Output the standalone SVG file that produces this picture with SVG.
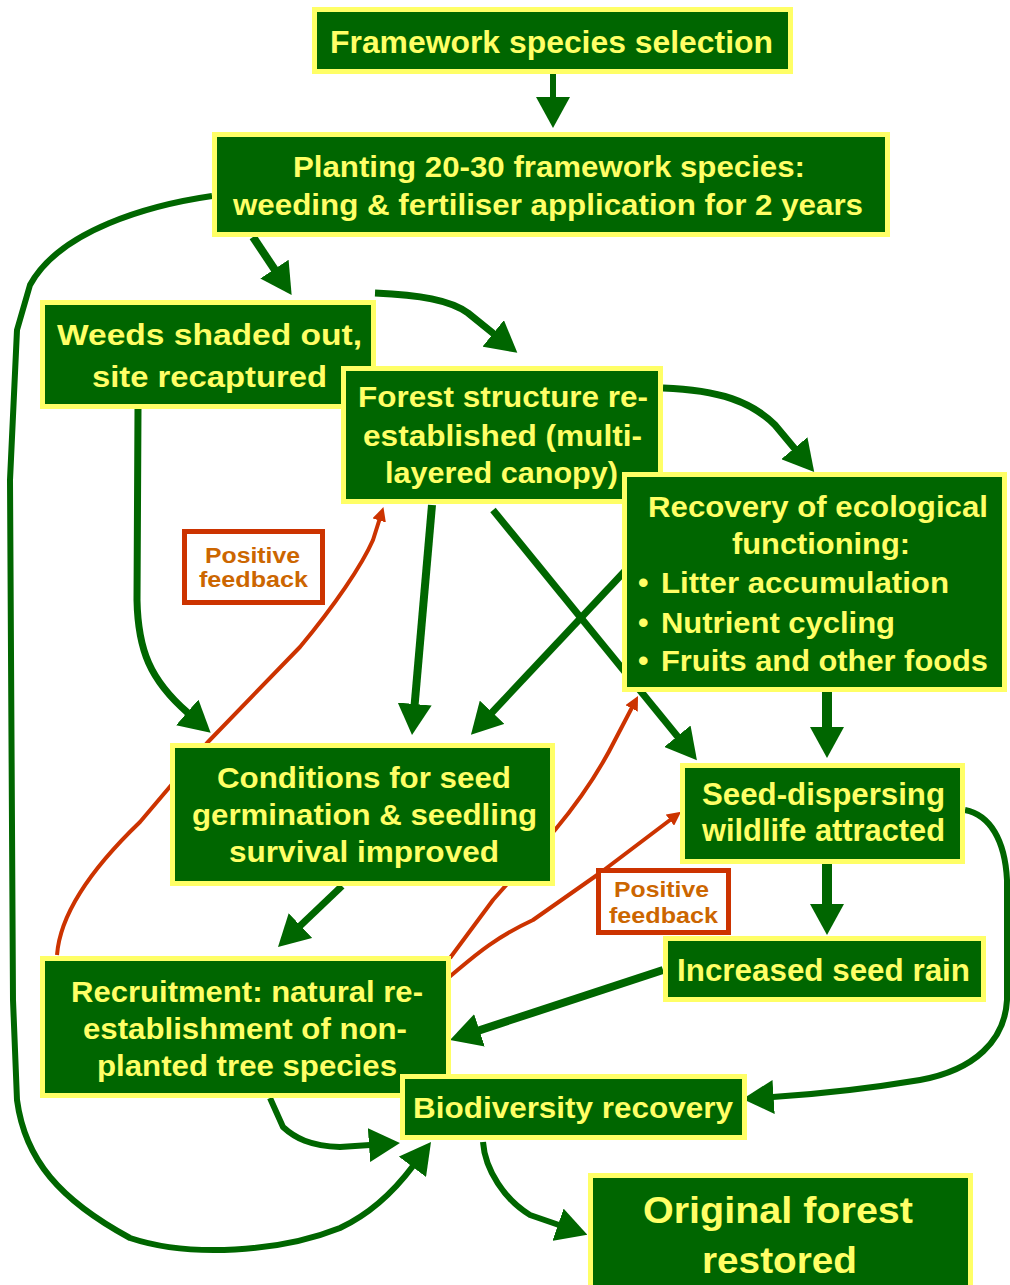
<svg xmlns="http://www.w3.org/2000/svg" width="1010" height="1285" viewBox="0 0 1010 1285">
<style>
.node rect{fill:#006600;stroke:#FFFF66;stroke-width:5}
.fb rect{fill:#FFFFFF;stroke:#CC3300;stroke-width:5}
text{font-family:"Liberation Sans",Arial,sans-serif;font-weight:bold}
.t{fill:#FFFF66;font-size:29px}
.f{fill:#CC6600;font-size:22px}
.c path{fill:none;stroke:#006600;stroke-width:7;stroke-linejoin:round}
.c path.r{stroke:#CC3300;stroke-width:4}
</style>
<defs>
<marker id="ah" viewBox="0 -17 31 34" markerWidth="31" markerHeight="34" markerUnits="userSpaceOnUse" refX="1" refY="0" orient="auto">
<path d="M0,-17 L31,0 L0,17 z" fill="#006600"/>
</marker>
<marker id="rh" viewBox="0 -7 14 14" markerWidth="14" markerHeight="14" markerUnits="userSpaceOnUse" refX="1" refY="0" orient="auto">
<path d="M0,-7 L14,0 L0,7 z" fill="#CC3300"/>
</marker>
</defs>
<rect width="1010" height="1285" fill="#FFFFFF"/>
<g id="connectors" class="c">
<path d="M553,74 L553,98" style="stroke-width:6" marker-end="url(#ah)"/>
<path d="M253,237 L275,270" style="stroke-width:8" marker-end="url(#ah)"/>
<path d="M375,293 C420,295 450,300 468,313 L494,334" marker-end="url(#ah)"/>
<path d="M663,388 C720,390 752,402 775,425 L795,449" marker-end="url(#ah)"/>
<path d="M138,409 L137,600 C138,650 150,680 188,713" marker-end="url(#ah)"/>
<path d="M432,505 L414.6,705" style="stroke-width:8" marker-end="url(#ah)"/>
<path d="M493,510 L678,737" marker-end="url(#ah)"/>
<path d="M640,555 L491.5,713" marker-end="url(#ah)"/>
<path d="M827,692 L827,728" style="stroke-width:10" marker-end="url(#ah)"/>
<path d="M827,864 L827,905" style="stroke-width:10" marker-end="url(#ah)"/>
<path d="M342,886 L299.7,926.3" marker-end="url(#ah)"/>
<path d="M663,970 L478.5,1030.6" style="stroke-width:8" marker-end="url(#ah)"/>
<path d="M270,1098 L283,1127 C295,1138 310,1146 340,1147 L370,1145" style="stroke-width:6" marker-end="url(#ah)"/>
<path d="M212,196 C150,205 60,230 30,285 L17,330 L10,480 L13,1000 L17,1100 C25,1160 60,1200 130,1238 C190,1258 280,1252 340,1228 C370,1214 395,1190 413,1166" style="stroke-width:6" marker-end="url(#ah)"/>
<path d="M965,810 C990,815 1005,840 1007,880 L1007,1000 C1005,1040 975,1070 920,1080 C860,1090 820,1094 772.6,1097" style="stroke-width:6" marker-end="url(#ah)"/>
<path d="M483,1142 C485,1170 505,1200 530,1215 L559,1225" style="stroke-width:6" marker-end="url(#ah)"/>
<path class="r" d="M57,955 C60,915 90,870 140,822 L207,743 L300,647 C335,605 362,565 373,540 L379.5,519.5" marker-end="url(#rh)"/>
<path class="r" d="M450,958 L493,900 L555,830 C580,800 600,770 615,740 L632,707.5" marker-end="url(#rh)"/>
<path class="r" d="M448,978 C470,960 490,940 533,920 L600,873 L670.7,819.5" marker-end="url(#rh)"/>
</g>
<g id="framework" class="node">
<rect x="314.5" y="9.5" width="476" height="62"/>
<text class="t" x="330" y="53" textLength="443" lengthAdjust="spacingAndGlyphs" style="font-size:31px">Framework species selection</text>
</g>
<g id="planting" class="node">
<rect x="214.5" y="134.5" width="673" height="100"/>
<text class="t" x="293" y="177" textLength="512" lengthAdjust="spacingAndGlyphs">Planting 20-30 framework species:</text>
<text class="t" x="233" y="215" textLength="630" lengthAdjust="spacingAndGlyphs">weeding &amp; fertiliser application for 2 years</text>
</g>
<g id="weeds" class="node">
<rect x="42.5" y="302.5" width="331" height="104"/>
<text class="t" x="57" y="345" textLength="305" lengthAdjust="spacingAndGlyphs" style="font-size:30px">Weeds shaded out,</text>
<text class="t" x="92" y="387" textLength="235" lengthAdjust="spacingAndGlyphs" style="font-size:30px">site recaptured</text>
</g>
<g id="forest" class="node">
<rect x="343.5" y="368.5" width="317" height="133"/>
<text class="t" x="358" y="407" textLength="290" lengthAdjust="spacingAndGlyphs" style="font-size:30px">Forest structure re-</text>
<text class="t" x="363" y="446" textLength="279" lengthAdjust="spacingAndGlyphs" style="font-size:30px">established (multi-</text>
<text class="t" x="385" y="483" textLength="233" lengthAdjust="spacingAndGlyphs" style="font-size:30px">layered canopy)</text>
</g>
<g id="recovery" class="node">
<rect x="624.5" y="474.5" width="380" height="215"/>
<text class="t" x="648" y="517" textLength="340" lengthAdjust="spacingAndGlyphs" style="font-size:30px">Recovery of ecological</text>
<text class="t" x="732" y="554" textLength="178" lengthAdjust="spacingAndGlyphs" style="font-size:30px">functioning:</text>
<text class="t" x="638" y="593" style="font-size:30px">•</text>
<text class="t" x="661" y="593" textLength="288" lengthAdjust="spacingAndGlyphs" style="font-size:30px">Litter accumulation</text>
<text class="t" x="638" y="633" style="font-size:30px">•</text>
<text class="t" x="661" y="633" textLength="234" lengthAdjust="spacingAndGlyphs" style="font-size:30px">Nutrient cycling</text>
<text class="t" x="638" y="671" style="font-size:30px">•</text>
<text class="t" x="661" y="671" textLength="327" lengthAdjust="spacingAndGlyphs" style="font-size:30px">Fruits and other foods</text>
</g>
<g id="conditions" class="node">
<rect x="172.5" y="745.5" width="380" height="138"/>
<text class="t" x="217" y="788" textLength="294" lengthAdjust="spacingAndGlyphs" style="font-size:30px">Conditions for seed</text>
<text class="t" x="192" y="825" textLength="345" lengthAdjust="spacingAndGlyphs" style="font-size:30px">germination &amp; seedling</text>
<text class="t" x="229" y="862" textLength="270" lengthAdjust="spacingAndGlyphs" style="font-size:30px">survival improved</text>
</g>
<g id="seed-dispersing" class="node">
<rect x="682.5" y="765.5" width="280" height="96"/>
<text class="t" x="702" y="805" textLength="243" lengthAdjust="spacingAndGlyphs" style="font-size:31px">Seed-dispersing</text>
<text class="t" x="702" y="841" textLength="243" lengthAdjust="spacingAndGlyphs" style="font-size:31px">wildlife attracted</text>
</g>
<g id="seed-rain" class="node">
<rect x="665.5" y="938.5" width="318" height="61"/>
<text class="t" x="677" y="981" textLength="293" lengthAdjust="spacingAndGlyphs" style="font-size:31px">Increased seed rain</text>
</g>
<g id="recruitment" class="node">
<rect x="42.5" y="958.5" width="406" height="137"/>
<text class="t" x="71" y="1002" textLength="352" lengthAdjust="spacingAndGlyphs" style="font-size:30px">Recruitment: natural re-</text>
<text class="t" x="83" y="1039" textLength="324" lengthAdjust="spacingAndGlyphs" style="font-size:30px">establishment of non-</text>
<text class="t" x="97" y="1076" textLength="300" lengthAdjust="spacingAndGlyphs" style="font-size:30px">planted tree species</text>
</g>
<g id="biodiversity" class="node">
<rect x="402.5" y="1076.5" width="342" height="61"/>
<text class="t" x="413" y="1118" textLength="320" lengthAdjust="spacingAndGlyphs" style="font-size:30px">Biodiversity recovery</text>
</g>
<g id="original" class="node">
<rect x="590.5" y="1175.5" width="380" height="120"/>
<text class="t" x="643" y="1223" textLength="270" lengthAdjust="spacingAndGlyphs" style="font-size:37px">Original forest</text>
<text class="t" x="702" y="1273" textLength="155" lengthAdjust="spacingAndGlyphs" style="font-size:37px">restored</text>
</g>
<g id="feedback1" class="fb">
<rect x="184.5" y="531.5" width="138" height="71"/>
<text class="f" x="205" y="563" textLength="95" lengthAdjust="spacingAndGlyphs">Positive</text>
<text class="f" x="199" y="587" textLength="109" lengthAdjust="spacingAndGlyphs">feedback</text>
</g>
<g id="feedback2" class="fb">
<rect x="598.5" y="870.5" width="130" height="62"/>
<text class="f" x="614" y="897" textLength="95" lengthAdjust="spacingAndGlyphs">Positive</text>
<text class="f" x="609" y="923" textLength="109" lengthAdjust="spacingAndGlyphs">feedback</text>
</g>
</svg>
